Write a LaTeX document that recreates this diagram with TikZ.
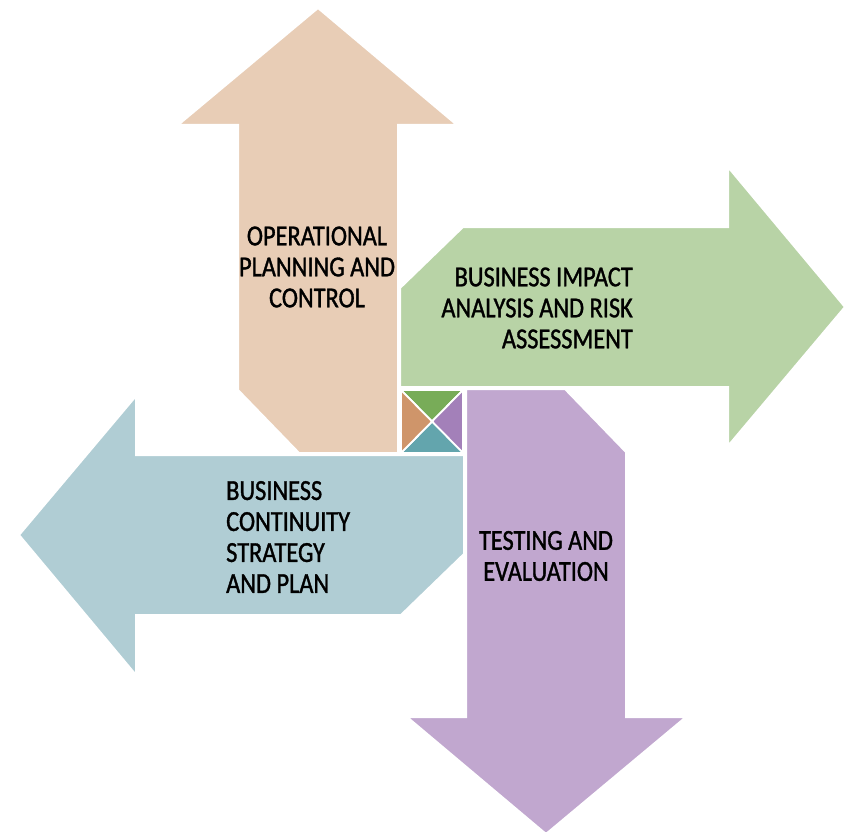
\documentclass[tikz,border=0pt]{standalone}
\usepackage{fontspec}
\newfontfamily\lblfont{Carlito}[FakeStretch=0.84,FakeBold=1.2]
\definecolor{peach}{RGB}{232,205,182}
\definecolor{lgreen}{RGB}{184,211,166}
\definecolor{lpurple}{RGB}{193,167,207}
\definecolor{lteal}{RGB}{176,205,212}
\definecolor{dgreen}{RGB}{120,172,88}
\definecolor{dpurple}{RGB}{163,128,185}
\definecolor{dteal}{RGB}{99,165,173}
\definecolor{dorange}{RGB}{207,149,106}
\tikzset{
  arrowshape/.style={draw=white, line width=2pt, line join=miter},
  tri/.style={draw=white, line width=1.8pt, line join=miter},
  lbl/.style={inner sep=0pt, font=\lblfont\fontsize{29}{31}\selectfont, text=black}
}
\begin{document}
\begin{tikzpicture}[x=1pt,y=-1pt]
\useasboundingbox (0,0) rectangle (844,832);
% top arrow (peach)
\filldraw[arrowshape, fill=peach] (318,8) -- (457,125) -- (398,125) -- (398,453) -- (299,453) -- (238,390) -- (238,125) -- (178,125) -- cycle;
% right arrow (green)
\filldraw[arrowshape, fill=lgreen] (845,307) -- (728,446) -- (728,387) -- (400,387) -- (400,288) -- (463,227) -- (728,227) -- (728,167) -- cycle;
% bottom arrow (purple)
\filldraw[arrowshape, fill=lpurple] (546,834) -- (407,717) -- (466,717) -- (466,389) -- (565,389) -- (626,452) -- (626,717) -- (686,717) -- cycle;
% left arrow (teal)
\filldraw[arrowshape, fill=lteal] (19,535) -- (136,396) -- (136,455) -- (464,455) -- (464,554) -- (401,615) -- (136,615) -- (136,675) -- cycle;
% centre square of four triangles
\coordinate (s1) at (401,390);
\coordinate (s2) at (463,390);
\coordinate (s3) at (463,453);
\coordinate (s4) at (401,453);
\coordinate (sc) at (432,421.5);
\filldraw[tri, fill=dgreen] (s1) -- (s2) -- (sc) -- cycle;
\filldraw[tri, fill=dpurple] (s2) -- (s3) -- (sc) -- cycle;
\filldraw[tri, fill=dteal] (s3) -- (s4) -- (sc) -- cycle;
\filldraw[tri, fill=dorange] (s4) -- (s1) -- (sc) -- cycle;
% labels
\node[lbl, align=center] (ops) at (317,267) {OPERATIONAL\\PLANNING AND\\CONTROL};
\node[lbl, align=right, anchor=east] (bia) at (633,308) {BUSINESS IMPACT\\ANALYSIS AND RISK\\ASSESSMENT};
\node[lbl, align=left, anchor=west] (bcs) at (226,537) {BUSINESS\\CONTINUITY\\STRATEGY\\AND PLAN};
\node[lbl, align=center] (tae) at (546,556) {TESTING AND\\EVALUATION};
\end{tikzpicture}
\end{document}
